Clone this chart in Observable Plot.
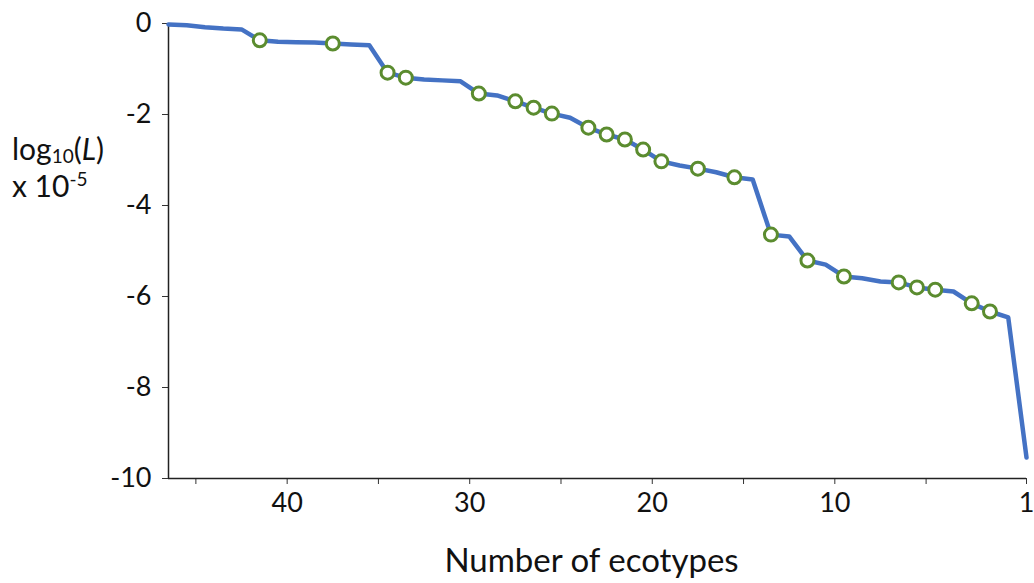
<!DOCTYPE html>
<html>
<head>
<meta charset="utf-8">
<script src="https://cdn.jsdelivr.net/npm/d3@7"></script>
<script src="https://cdn.jsdelivr.net/npm/@observablehq/plot@0.6"></script>
<style>
  html, body { margin: 0; padding: 0; background: #fff; }
  #wrap { position: relative; width: 1034px; height: 583px; font-family: Lato, "Open Sans", sans-serif; }
  .ylab { position: absolute; z-index: 2; left: 12px; font-size: 30px; line-height: 31px; color: #111; white-space: nowrap; }
  .ylab sub, .ylab sup { font-size: 19px; line-height: 0; }
  .ylab sub { vertical-align: -3px; }
  .ylab sup { vertical-align: 11px; }
</style>
</head>
<body>
<div id="wrap">
  <div class="ylab" style="top:133px">log<sub>10</sub>(<i>L</i>)</div>
  <div class="ylab" style="top:170px">x 10<sup>-5</sup></div>
</div>
<script>
// Position along the (reversed) ecotype axis
const position = [46.5, 45.5, 44.5, 43.5, 42.5, 41.5, 40.5, 39.5, 38.5, 37.5, 36.5, 35.5,
  34.5, 33.5, 32.5, 31.5, 30.5, 29.5, 28.5, 27.5, 26.5, 25.5, 24.5, 23.5, 22.5, 21.5,
  20.5, 19.5, 18.5, 17.5, 16.5, 15.5, 14.5, 13.5, 12.5, 11.5, 10.5, 9.5, 8.5, 7.5, 6.5,
  5.5, 4.5, 3.5, 2.5, 1.5, 0.5, -0.5];
// log10(L) x 10^-5
const logL = [-0.02, -0.04, -0.08, -0.11, -0.13, -0.37, -0.40, -0.41, -0.42, -0.44, -0.46, -0.48,
  -1.08, -1.19, -1.23, -1.25, -1.27, -1.54, -1.58, -1.71, -1.85, -1.98, -2.07, -2.29, -2.44, -2.55,
  -2.77, -3.03, -3.12, -3.19, -3.27, -3.38, -3.43, -4.64, -4.68, -5.21, -5.30, -5.56, -5.60, -5.67, -5.69,
  -5.80, -5.85, -5.89, -6.15, -6.33, -6.46, -9.54];
// which points carry a marker
const marked = [0, 0, 0, 0, 0, 1, 0, 0, 0, 1, 0, 0,
  1, 1, 0, 0, 0, 1, 0, 1, 1, 1, 0, 1, 1, 1,
  1, 1, 0, 1, 0, 1, 0, 1, 0, 1, 0, 1, 0, 0, 1,
  1, 1, 0, 1, 1, 0, 0];

const xTickValues = [45, 40, 35, 30, 25, 20, 15, 10, 5, -0.5];
const xTickLabels = ["", "40", "", "30", "", "20", "", "10", "", "1"];
const yTickValues = [0, -2, -4, -6, -8, -10];
const yTickLabels = ["0", "-2", "-4", "-6", "-8", "-10"];
const xTitle = "Number of ecotypes";

const data = position.map((x, i) => ({x, y: logL[i], m: marked[i] === 1}));
const xLabelOf = new Map(xTickValues.map((v, i) => [v, xTickLabels[i]]));
const yLabelOf = new Map(yTickValues.map((v, i) => [v, yTickLabels[i]]));

const font = "Lato, 'Open Sans', sans-serif";
const chart = Plot.plot({
  width: 1034,
  height: 583,
  marginLeft: 168,
  marginRight: 8,
  marginTop: 23,
  marginBottom: 105,
  style: {fontFamily: font, background: "transparent", color: "#111", overflow: "visible"},
  x: {domain: [46.5, -0.5]},
  y: {domain: [-10, 0]},
  marks: [
    Plot.axisY({ticks: yTickValues, tickFormat: d => yLabelOf.get(d), tickSize: 6, tickPadding: 11, fontSize: 27, label: null, stroke: "#333"}),
    Plot.axisX({ticks: xTickValues, tickFormat: d => xLabelOf.get(d), tickSize: 6, tickPadding: 8, fontSize: 27, label: null, stroke: "#333"}),
    Plot.ruleX([46.5], {stroke: "#222", strokeWidth: 1.5}),
    Plot.ruleY([-10], {stroke: "#222", strokeWidth: 1.5}),
    Plot.line(data, {x: "x", y: "y", stroke: "#4472C4", strokeWidth: 4.5}),
    Plot.dot(data.filter(d => d.m), {x: "x", y: "y", r: 6.5, fill: "white", stroke: "#5B8C2F", strokeWidth: 3}),
    Plot.text([xTitle], {frameAnchor: "bottom", dx: -6, dy: 83, lineAnchor: "middle", fontSize: 33, fill: "#111"})
  ]
});
chart.style.position = "absolute";
chart.style.left = "0";
chart.style.top = "0";
chart.style.zIndex = "1";
document.getElementById("wrap").appendChild(chart);
</script>
</body>
</html>
